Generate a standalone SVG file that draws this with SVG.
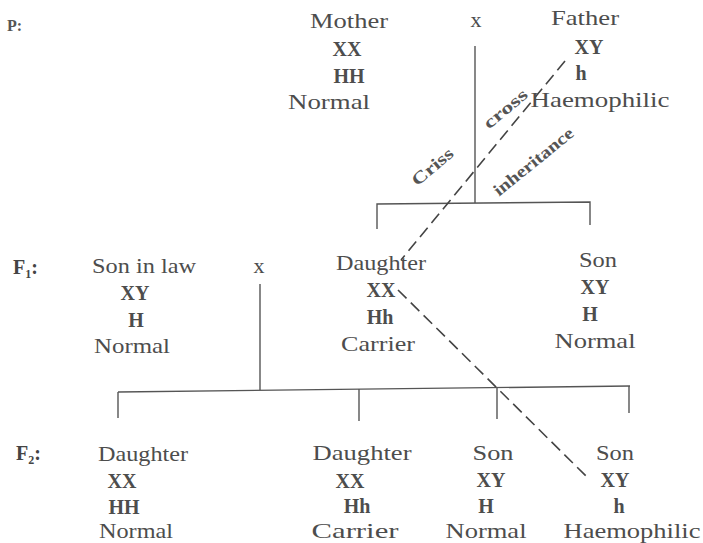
<svg xmlns="http://www.w3.org/2000/svg" width="703" height="543" viewBox="0 0 703 543">
<style>
text{font-family:"Liberation Serif","Times New Roman",serif;fill:#4d4d4d}
.r{font-size:22px}
.b{font-size:20px;font-weight:bold}
.m{text-anchor:middle}
.lbl{font-size:20px;font-weight:bold;fill:#444}
.rot{font-size:17px;font-weight:bold;text-anchor:middle;fill:#555}
.ln{stroke:#555;stroke-width:1.4;fill:none}
.ds{stroke:#444;stroke-width:1.6;fill:none;stroke-dasharray:12 6}
</style>
<rect width="703" height="543" fill="#fff"/>
<g id="generation-labels">
<text x="7" y="31" style="font-size:16px;font-weight:bold;fill:#555">P:</text>
<text x="13" y="274" class="lbl">F<tspan font-size="12" dy="4">1</tspan><tspan dy="-4">:</tspan></text>
<text x="16" y="460" class="lbl">F<tspan font-size="12" dy="4">2</tspan><tspan dy="-4">:</tspan></text>
</g>
<g id="connectors">
<line class="ln" x1="475" y1="46" x2="475" y2="203"/>
<polyline class="ln" points="377,229 377,204 590,202 590,225"/>
<line class="ln" x1="260" y1="284" x2="260" y2="390"/>
<line class="ln" x1="118" y1="392" x2="630" y2="386"/>
<line class="ln" x1="118" y1="392" x2="118" y2="418"/>
<line class="ln" x1="359" y1="389" x2="359" y2="421"/>
<line class="ln" x1="497" y1="388" x2="497" y2="419"/>
<line class="ln" x1="629" y1="386" x2="629" y2="413"/>
<line class="ds" x1="565" y1="61" x2="401" y2="260"/>
<line class="ds" x1="398" y1="290" x2="586" y2="476"/>
<text class="rot" transform="translate(436,171) rotate(-40)" textLength="49" lengthAdjust="spacingAndGlyphs">Criss</text>
<text class="rot" transform="translate(509,113) rotate(-40)" textLength="52" lengthAdjust="spacingAndGlyphs">cross</text>
<text class="rot" transform="translate(537,166) rotate(-39)" textLength="98" lengthAdjust="spacingAndGlyphs">inheritance</text>
</g>
<g id="mother">
<text x="349" y="28" class="r m" textLength="78" lengthAdjust="spacingAndGlyphs">Mother</text>
<text x="347" y="56" class="b m">XX</text>
<text x="349" y="83" class="b m">HH</text>
<text x="329" y="109" class="r m" textLength="82" lengthAdjust="spacingAndGlyphs">Normal</text>
</g>
<g id="cross-p">
<text x="476" y="27" class="r m">x</text>
</g>
<g id="father">
<text x="585" y="25" class="r m" textLength="68" lengthAdjust="spacingAndGlyphs">Father</text>
<text x="589" y="54" class="b m">XY</text>
<text x="581" y="80" class="b m">h</text>
<text x="600" y="107" class="r m" textLength="139" lengthAdjust="spacingAndGlyphs">Haemophilic</text>
</g>
<g id="son-in-law">
<text x="144" y="273" class="r m" textLength="104" lengthAdjust="spacingAndGlyphs">Son in law</text>
<text x="135" y="300" class="b m">XY</text>
<text x="136" y="327" class="b m">H</text>
<text x="132" y="353" class="r m" textLength="76" lengthAdjust="spacingAndGlyphs">Normal</text>
</g>
<g id="cross-f1">
<text x="259" y="273" class="r m">x</text>
</g>
<g id="daughter-f1">
<text x="381" y="270" class="r m" textLength="90" lengthAdjust="spacingAndGlyphs">Daughter</text>
<text x="381" y="297" class="b m">XX</text>
<text x="380" y="324" class="b m">Hh</text>
<text x="378" y="351" class="r m" textLength="74" lengthAdjust="spacingAndGlyphs">Carrier</text>
</g>
<g id="son-f1">
<text x="598" y="267" class="r m" textLength="38" lengthAdjust="spacingAndGlyphs">Son</text>
<text x="595" y="294" class="b m">XY</text>
<text x="590" y="321" class="b m">H</text>
<text x="595" y="348" class="r m" textLength="81" lengthAdjust="spacingAndGlyphs">Normal</text>
</g>
<g id="daughter-f2-normal">
<text x="143" y="461" class="r m" textLength="90" lengthAdjust="spacingAndGlyphs">Daughter</text>
<text x="122" y="488" class="b m">XX</text>
<text x="124" y="514" class="b m">HH</text>
<text x="136" y="538" class="r m" textLength="74" lengthAdjust="spacingAndGlyphs">Normal</text>
</g>
<g id="daughter-f2-carrier">
<text x="362" y="460" class="r m" textLength="99" lengthAdjust="spacingAndGlyphs">Daughter</text>
<text x="350" y="488" class="b m">XX</text>
<text x="357" y="513" class="b m">Hh</text>
<text x="355" y="538" class="r m" textLength="87" lengthAdjust="spacingAndGlyphs">Carrier</text>
</g>
<g id="son-f2-normal">
<text x="493" y="460" class="r m" textLength="41" lengthAdjust="spacingAndGlyphs">Son</text>
<text x="491" y="487" class="b m">XY</text>
<text x="486" y="513" class="b m">H</text>
<text x="486" y="538" class="r m" textLength="81" lengthAdjust="spacingAndGlyphs">Normal</text>
</g>
<g id="son-f2-haemophilic">
<text x="615" y="460" class="r m" textLength="38" lengthAdjust="spacingAndGlyphs">Son</text>
<text x="615" y="487" class="b m">XY</text>
<text x="619" y="513" class="b m">h</text>
<text x="632" y="538" class="r m" textLength="137" lengthAdjust="spacingAndGlyphs">Haemophilic</text>
</g>
</svg>
